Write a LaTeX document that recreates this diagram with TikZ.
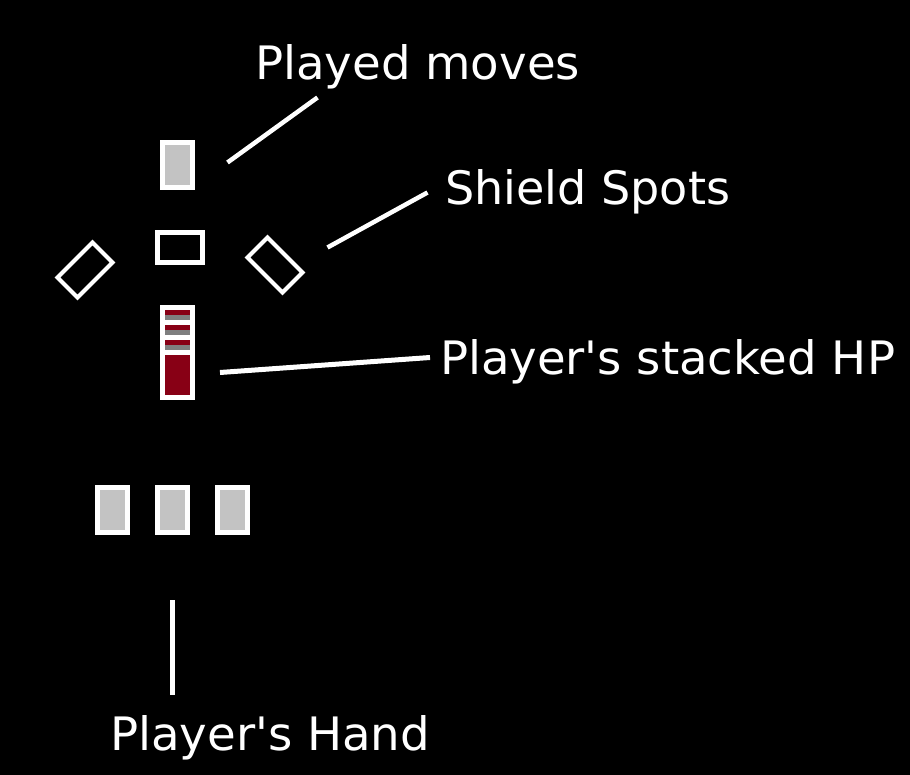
\documentclass[tikz,border=0pt]{standalone}
\usepackage{fontspec}
\newfontfamily\lblfont{DejaVu Sans}
\usepackage{graphicx}
\definecolor{cardgray}{HTML}{C3C3C3}
\definecolor{hpred}{HTML}{880015}
\definecolor{hpgray}{HTML}{7F7F7F}
\begin{document}
\begin{tikzpicture}[x=1pt,y=-1pt,
  card/.style={draw=white,line width=5pt,fill=cardgray,minimum width=30pt,minimum height=45pt,inner sep=0pt,outer sep=0pt},
  slot/.style={draw=white,line width=5pt,fill=black,minimum width=45pt,minimum height=30pt,inner sep=0pt,outer sep=0pt},
  shieldspot/.style={draw=white,line width=4pt,line join=miter},
  pointer/.style={draw=white,line width=4.5pt},
  lbl/.style={text=white,anchor=base west,inner sep=0pt,outer sep=0pt,font=\lblfont}]
\fill[black] (0,0) rectangle (910,775);
\useasboundingbox (0,0) rectangle (910,775);
% played move card
\node[card] (played) at (177.5,165) {};
% center slot
\node[slot] (center) at (180,247.5) {};
% shield spots
\draw[shieldspot] (92.5,242.5) -- (112.5,262.5) -- (77.5,297.5) -- (57.5,277.5) -- cycle;
\draw[shieldspot] (267.5,237.5) -- (302.5,272.5) -- (282.5,292.5) -- (247.5,257.5) -- cycle;
% HP stack
\node[fill=white,minimum width=35pt,minimum height=95pt,inner sep=0pt,outer sep=0pt] (hp) at (177.5,352.5) {};
\fill[hpred] (165,310) rectangle (190,315);
\fill[hpgray] (165,315) rectangle (190,320);
\fill[hpred] (165,325) rectangle (190,330);
\fill[hpgray] (165,330) rectangle (190,335);
\fill[hpred] (165,340) rectangle (190,345);
\fill[hpgray] (165,345) rectangle (190,350);
\fill[hpred] (165,355) rectangle (190,395);
% hand
\node[card] (hand1) at (112.5,510) {};
\node[card] (hand2) at (172.5,510) {};
\node[card] (hand3) at (232.5,510) {};
% labels
\node[lbl] (lplayed) at (255,80) {\resizebox{325pt}{35pt}{\lblfont Played moves}};
\node[lbl] (lshield) at (445,205) {\resizebox{285pt}{35pt}{\lblfont Shield Spots}};
\node[lbl] (lhp) at (440,375) {\resizebox{455pt}{35pt}{\lblfont Player's stacked HP}};
\node[lbl] (lhand) at (110,750) {\resizebox{320pt}{35pt}{\lblfont Player's Hand}};
% connector ends
\coordinate (p1) at (227.5,162.5);
\coordinate (p2) at (317.5,97.5);
\coordinate (s1) at (327.5,247.5);
\coordinate (s2) at (427.5,192.5);
\coordinate (h1) at (220,372.5);
\coordinate (h2) at (430,357.5);
\coordinate (k1) at (172.5,600);
\coordinate (k2) at (172.5,695);
\draw[pointer] (p1) -- (p2);
\draw[pointer] (s1) -- (s2);
\draw[white,line width=5pt] (h1) -- (h2);
\draw[white,line width=5pt] (k1) -- (k2);
\end{tikzpicture}
\end{document}
